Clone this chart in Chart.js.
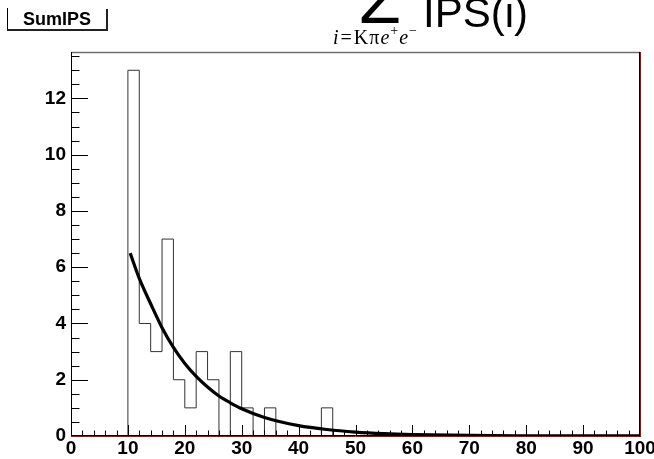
<!DOCTYPE html>
<html>
<head>
<meta charset="utf-8">
<script src="https://cdn.jsdelivr.net/npm/chart.js@4.4.0/dist/chart.umd.min.js"></script>
<style>
  html, body { margin: 0; padding: 0; background: #fff; }
  #wrap { width: 654px; height: 459px; }
</style>
</head>
<body>
<div id="wrap"><canvas id="c" width="654" height="459"></canvas></div>
<script>
// ---------- Data ----------
const binWidth = 2;
// counts per bin, bins [0,2), [2,4) ... [98,100)
const binCounts = [
  0, 0, 0, 0, 0, 13, 4, 3, 7, 2,
  1, 3, 2, 0, 3, 1, 0, 1, 0, 0,
  0, 0, 1, 0, 0, 0, 0, 0, 0, 0,
  0, 0, 0, 0, 0, 0, 0, 0, 0, 0,
  0, 0, 0, 0, 0, 0, 0, 0, 0, 0
];
// exponential fit curve
const fitX = [10.4, 12, 14, 16, 18, 20, 22, 24, 26, 28, 30, 34, 40, 45, 50, 55, 60, 70, 80, 90, 100];
const fitY = [6.5, 5.6, 4.7, 3.85, 3.15, 2.58, 2.12, 1.74, 1.42, 1.18, 0.97, 0.66, 0.37, 0.23, 0.14, 0.085, 0.053, 0.02, 0.008, 0.003, 0.001];

const xTickValues = [0, 10, 20, 30, 40, 50, 60, 70, 80, 90, 100];
const yTickValues = [0, 2, 4, 6, 8, 10, 12];
const xMinorStep = 2;
const yMinorStep = 0.5;
const yMax = 13.65;

const statName = "SumIPS";
const titleMain = "IPS(i)";

// ---------- Build points ----------
const histPoints = binCounts.map((c, i) => ({ x: i * binWidth, y: c }));
histPoints.push({ x: binCounts.length * binWidth, y: 0 });
const fitPoints = fitX.map((x, i) => ({ x, y: fitY[i] }));

// ---------- Frame, ticks, title ----------
const rootFrame = {
  id: 'rootFrame',
  afterDraw(chart) {
    const ctx = chart.ctx;
    const a = chart.chartArea;
    const xs = chart.scales.x, ys = chart.scales.y;
    ctx.save();

    // inward tick marks
    ctx.strokeStyle = '#000';
    ctx.lineWidth = 1;
    ctx.beginPath();
    for (let v = 0; v <= 100 + 1e-9; v += xMinorStep) {
      const px = Math.round(xs.getPixelForValue(v)) + 0.5;
      const major = xTickValues.includes(Math.round(v));
      ctx.moveTo(px, a.bottom);
      ctx.lineTo(px, a.bottom - (major ? 11 : 5.5));
    }
    for (let v = 0; v <= yMax + 1e-9; v += yMinorStep) {
      const py = Math.round(ys.getPixelForValue(v)) + 0.5;
      const major = yTickValues.includes(v);
      ctx.moveTo(a.left, py);
      ctx.lineTo(a.left + (major ? 17 : 8.5), py);
    }
    ctx.stroke();

    // frame
    ctx.lineWidth = 1.5;
    ctx.strokeStyle = '#707070';
    ctx.beginPath();
    ctx.moveTo(a.left, a.top + 0.5);
    ctx.lineTo(a.right, a.top + 0.5);
    ctx.stroke();
    ctx.lineWidth = 1;
    ctx.strokeStyle = '#000';
    ctx.beginPath();
    ctx.moveTo(a.left + 0.5, a.top);
    ctx.lineTo(a.left + 0.5, a.bottom);
    ctx.moveTo(a.right - 0.5, a.top);
    ctx.lineTo(a.right - 0.5, a.bottom);
    ctx.stroke();
    ctx.strokeStyle = '#c00000';
    ctx.beginPath();
    ctx.moveTo(a.right + 0.5, a.top);
    ctx.lineTo(a.right + 0.5, a.bottom + 1);
    ctx.moveTo(a.left, a.bottom + 0.5);
    ctx.lineTo(a.right, a.bottom + 0.5);
    ctx.stroke();
    ctx.strokeStyle = '#000';
    ctx.beginPath();
    ctx.moveTo(a.left, a.bottom - 0.5);
    ctx.lineTo(a.right, a.bottom - 0.5);
    ctx.stroke();

    // stat box
    ctx.fillStyle = '#000';
    ctx.strokeStyle = '#000';
    ctx.lineWidth = 1;
    ctx.beginPath();
    ctx.moveTo(7.5, 8);
    ctx.lineTo(7.5, 30);
    ctx.stroke();
    ctx.lineWidth = 2;
    ctx.strokeStyle = '#222';
    ctx.beginPath();
    ctx.moveTo(7, 30);
    ctx.lineTo(108, 30);
    ctx.moveTo(107, 9);
    ctx.lineTo(107, 31);
    ctx.stroke();
    ctx.font = 'bold 18px "Liberation Sans", Arial, sans-serif';
    ctx.textAlign = 'center';
    ctx.textBaseline = 'alphabetic';
    ctx.fillText(statName, 57, 25);

    // title: sum symbol, main text, subscript
    ctx.textAlign = 'left';
    ctx.font = '70px "Liberation Sans", Arial, sans-serif';
    ctx.fillText('\u03A3', 358, 23);
    ctx.font = '42px "Liberation Sans", Arial, sans-serif';
    ctx.fillText(titleMain, 423, 27);

    const serif = '"Liberation Serif", "Times New Roman", serif';
    const parts = [
      { t: 'i', f: 'italic 20px ' + serif, dy: 0, gap: 2 },
      { t: '=', f: '20px ' + serif, dy: 0, gap: 2 },
      { t: 'K', f: '20px ' + serif, dy: 0, gap: 1 },
      { t: '\u03C0', f: '20px ' + serif, dy: 0, gap: 1 },
      { t: 'e', f: 'italic 20px ' + serif, dy: 0, gap: 1 },
      { t: '+', f: '14px ' + serif, dy: -9, gap: 1 },
      { t: 'e', f: 'italic 20px ' + serif, dy: 0, gap: 1 },
      { t: '\u2212', f: '14px ' + serif, dy: -9, gap: 0 }
    ];
    let x = 333;
    parts.forEach(p => {
      ctx.font = p.f;
      ctx.fillText(p.t, x, 44 + p.dy);
      x += ctx.measureText(p.t).width + p.gap;
    });

    ctx.restore();
  }
};

const tickFont = { family: '"Liberation Sans", Arial, sans-serif', weight: 'bold', size: 19 };

new Chart(document.getElementById('c'), {
  type: 'line',
  data: {
    datasets: [
      {
        label: statName,
        data: histPoints,
        stepped: true,
        borderColor: '#333',
        borderWidth: 1,
        pointRadius: 0,
        fill: false,
        order: 2
      },
      {
        label: 'fit',
        data: fitPoints,
        borderColor: '#000',
        borderWidth: 3.2,
        pointRadius: 0,
        fill: false,
        cubicInterpolationMode: 'monotone',
        order: 1
      }
    ]
  },
  options: {
    responsive: false,
    animation: false,
    layout: { padding: { top: 52, right: 14, left: 0, bottom: 0 } },
    plugins: { legend: { display: false }, tooltip: { enabled: false } },
    scales: {
      x: {
        type: 'linear', min: 0, max: 100,
        grid: { display: false, drawTicks: false, tickLength: 0 },
        border: { display: false },
        ticks: { font: tickFont, color: '#000', padding: 1, maxRotation: 0, autoSkip: false },
        afterBuildTicks: s => { s.ticks = xTickValues.map(v => ({ value: v })); },
        afterFit: s => { s.height = 23; s.paddingLeft = 0; s.paddingRight = 0; }
      },
      y: {
        type: 'linear', min: 0, max: yMax,
        grid: { display: false, drawTicks: false, tickLength: 0 },
        border: { display: false },
        ticks: { font: tickFont, color: '#000', padding: 5 },
        afterBuildTicks: s => { s.ticks = yTickValues.map(v => ({ value: v })); },
        afterFit: s => { s.width = 71; s.paddingTop = 0; s.paddingBottom = 0; }
      }
    }
  },
  plugins: [rootFrame]
});
</script>
</body>
</html>
